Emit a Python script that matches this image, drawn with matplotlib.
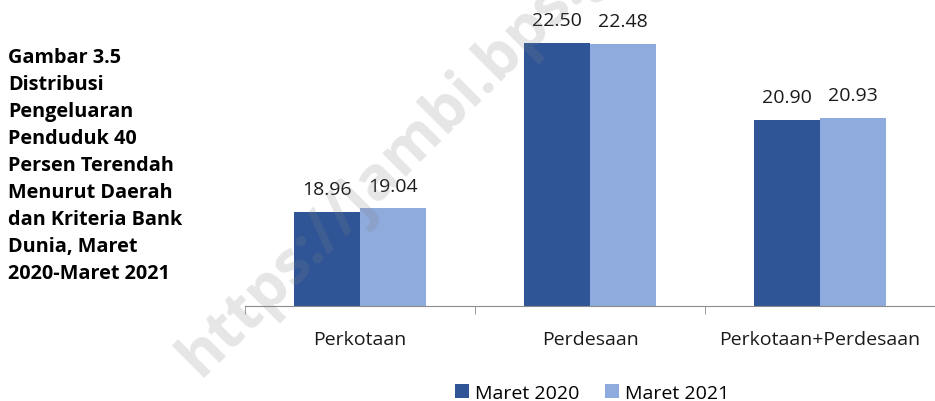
import numpy as np
import matplotlib.pyplot as plt

plt.rcParams['font.family'] = ['Open Sans', 'DejaVu Sans']

categories = ['Perkotaan', 'Perdesaan', 'Perkotaan+Perdesaan']
maret_2020 = [18.96, 22.50, 20.90]
maret_2021 = [19.04, 22.48, 20.93]
series_names = ['Maret 2020', 'Maret 2021']
caption = ('Gambar 3.5\nDistribusi\nPengeluaran\nPenduduk 40\nPersen Terendah\n'
           'Menurut Daerah\ndan Kriteria Bank\nDunia, Maret\n2020-Maret 2021')

c_dark = '#2F5597'
c_light = '#8FAADC'

fig = plt.figure(figsize=(9.35, 4.02), dpi=100)
ax = fig.add_axes([245 / 935, 95 / 402, 690 / 935, 307 / 402])

x = np.arange(len(categories))
w = 0.287
b1 = ax.bar(x - w / 2, maret_2020, w, color=c_dark, label=series_names[0])
b2 = ax.bar(x + w / 2, maret_2021, w, color=c_light, label=series_names[1])

for bars in (b1, b2):
    for r in bars:
        h = r.get_height()
        ax.annotate(f'{h:.2f}', (r.get_x() + r.get_width() / 2, h),
                    xytext=(0, 10), textcoords='offset points',
                    ha='center', va='bottom', fontsize=14, color='#1a1a1a')

ax.set_ylim(17, 17 + 307 / 47.8)
ax.set_xlim(-0.5, len(categories) - 0.5)
for s in ['top', 'right', 'left']:
    ax.spines[s].set_visible(False)
ax.spines['bottom'].set_color('#8c8c8c')
ax.set_yticks([])
ax.set_xticks(x)
ax.set_xticklabels(categories, fontsize=14, color='#1a1a1a')
ax.tick_params(axis='x', which='major', length=0, pad=17)
ax.set_xticks(np.arange(-0.5, len(categories), 1.0), minor=True)
ax.tick_params(axis='x', which='minor', length=6, color='#8c8c8c')

leg = fig.legend(loc='center', bbox_to_anchor=(592 / 935, 1 - 394 / 402), ncol=2,
                 frameon=False, fontsize=14, handlelength=0.75, handleheight=0.75,
                 handletextpad=0.3, columnspacing=1.3)

fig.text(8 / 935, 1 - 48 / 402, caption, ha='left', va='top', fontsize=14.3,
         fontweight='bold', linespacing=1.47)

# watermark
fig.text(200 / 935, 1 - 378 / 402, 'https://jambi.bps.go.id', rotation=45,
         rotation_mode='anchor', ha='left', va='baseline', fontsize=44,
         fontweight='bold', color='#808080', alpha=0.2)

fig.savefig('out.png', dpi=100)
